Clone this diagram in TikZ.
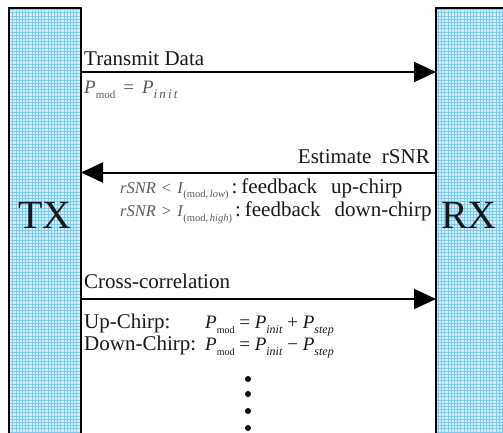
\documentclass[tikz,border=0pt]{standalone}
\usepackage{fontspec}
\setmainfont{Liberation Serif}
\usetikzlibrary{arrows.meta}

\definecolor{boxfill}{RGB}{212,238,251}
\definecolor{gridline}{RGB}{125,202,240}
\definecolor{formula}{RGB}{90,90,90}
\definecolor{ink}{RGB}{25,25,25}

% small lowered subscript text
\newcommand\lowsub[2][10]{\raisebox{-0.3em}{\fontsize{#1}{#1}\selectfont #2}}

\tikzset{
  station/.style={fill=boxfill, draw=none, minimum width=72pt, minimum height=440pt,
    anchor=north west, inner sep=0pt, outer sep=0pt},
  border/.style={draw=black, line width=2.6pt},
  msg/.style={line width=2pt, -{Triangle[length=22pt,width=20pt]}},
  lbl/.style={anchor=base west, inner sep=0pt, font=\fontsize{21}{24}\selectfont, text=ink},
  big/.style={inner sep=0pt, font=\fontsize{40}{40}\selectfont, text=ink},
  dot/.style={circle, fill=black, inner sep=0pt, minimum size=6pt}
}

\begin{document}
\begin{tikzpicture}[x=1pt,y=-1pt]
  \useasboundingbox (0,0) rectangle (503,432);
  \clip (0,0) rectangle (503,432);

  % transmitter and receiver columns
  \node[station] (tx) at (9,8) {};
  \node[station, minimum width=80pt] (rx) at (436,8) {};
  \foreach \b in {tx,rx}{
    \begin{scope}
      \clip ([shift={(1pt,-1pt)}]\b.north west) rectangle (\b.south east);
      \draw[gridline, line width=0.75pt, step=3.2pt] (\b.north west) grid (\b.south east);
    \end{scope}
  }
  \draw[border] (tx.south west) -- (tx.north west) -- (tx.north east) -- (tx.south east);
  \draw[border] (rx.south west) -- (rx.north west) -- (rx.north east);

  \node[big] (txname) at (45,215) {TX};
  \node[big] (rxname) at (469,215) {RX};

  % message 1
  \draw[msg] (tx.east |- 0,72) coordinate (m1s) -- (rx.west |- 0,72) coordinate (m1e);
  \node[lbl] (t1) at (84,65) {Transmit Data};
  \node[lbl, text=formula, font=\fontsize{19}{22}\selectfont] (f1) at (84,93)
    {\textit{P}\lowsub[11]{mod}\hspace{8pt}=\hspace{8pt}\textit{P}\lowsub[13]{\textit{i\,n\,i\,t}}};

  % message 2
  \draw[msg] (rx.west |- 0,172.5) coordinate (m2s) -- (tx.east |- 0,172.5) coordinate (m2e);
  \node[lbl, anchor=base east] (t2) at (430,163) {Estimate\ \ rSNR};
  \node[lbl] (c1) at (120,193)
    {\textcolor{formula}{\fontsize{16.5}{20}\selectfont\textit{rSNR}\hspace{6pt}<\hspace{6pt}\textit{I}\lowsub[10.5]{(mod,\,\textit{low})}}\hspace{3pt}:\hspace{4pt}feedback\hspace{14pt}up-chirp};
  \node[lbl] (c2) at (120,216.5)
    {\textcolor{formula}{\fontsize{16.5}{20}\selectfont\textit{rSNR}\hspace{6pt}>\hspace{6pt}\textit{I}\lowsub[10.5]{(mod,\,\textit{high})}}\hspace{3pt}:\hspace{4pt}feedback\hspace{14pt}down-chirp};

  % message 3
  \draw[msg] (tx.east |- 0,299) coordinate (m3s) -- (rx.west |- 0,299) coordinate (m3e);
  \node[lbl] (t3) at (84,288) {Cross-correlation};
  \node[lbl] (u1) at (84,328) {Up-Chirp:};
  \node[lbl] (d1) at (84,350) {Down-Chirp:};
  \node[lbl, font=\fontsize{19}{22}\selectfont] (u2) at (205,328)
    {\textit{P}\lowsub[10]{mod} = \textit{P}\lowsub[12]{\textit{init}} + \textit{P}\lowsub[12]{\textit{step}}};
  \node[lbl, font=\fontsize{19}{22}\selectfont] (d2) at (205,350)
    {\textit{P}\lowsub[10]{mod} = \textit{P}\lowsub[12]{\textit{init}} − \textit{P}\lowsub[12]{\textit{step}}};

  % continuation dots
  \foreach \y/\n in {379/a,394/b,411/c,428/d}
    \node[dot] (dot\n) at (248,\y) {};
\end{tikzpicture}
\end{document}
